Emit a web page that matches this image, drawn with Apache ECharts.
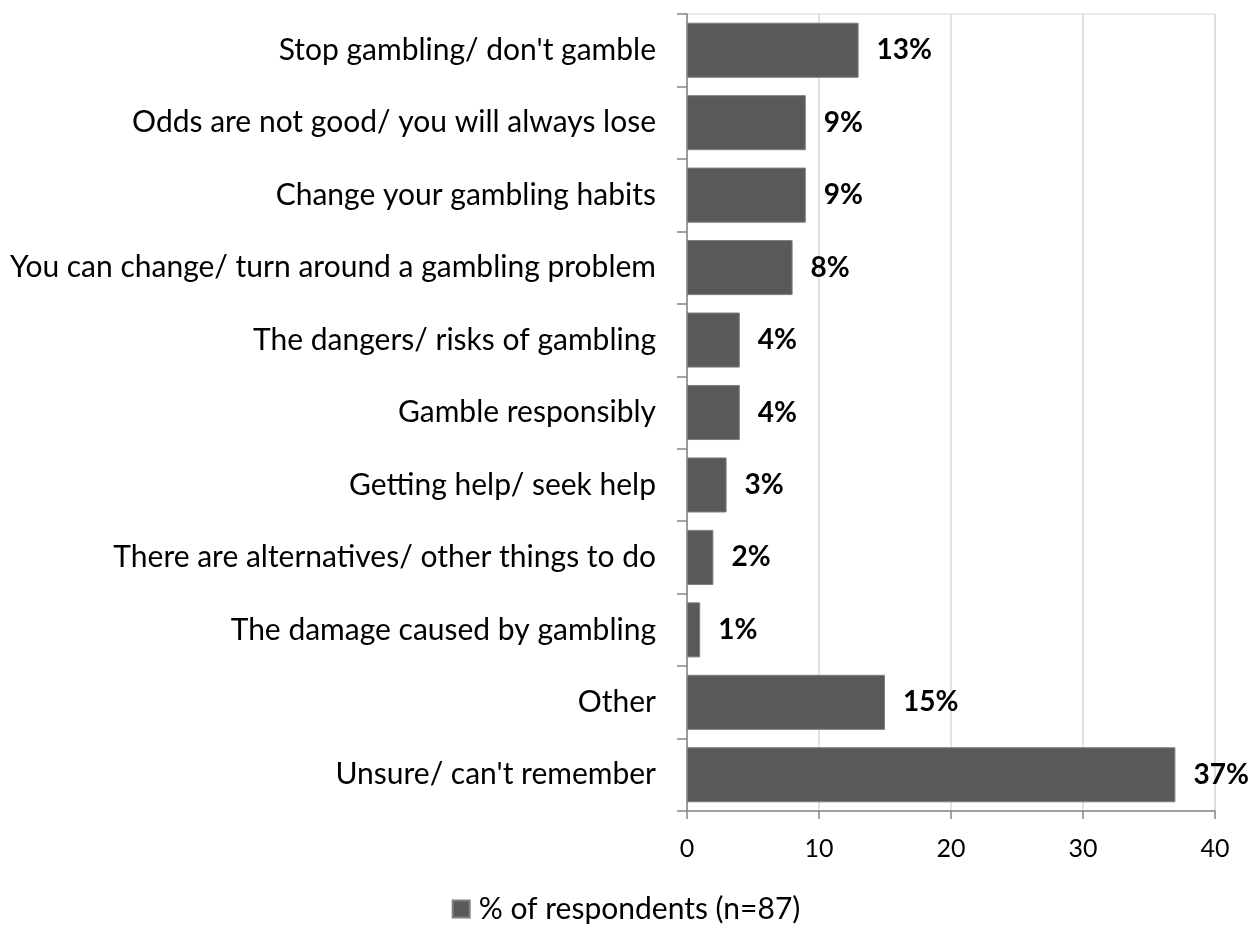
<!DOCTYPE html>
<html>
<head>
<meta charset="utf-8">
<script src="https://cdn.jsdelivr.net/npm/echarts@6/dist/echarts.min.js"></script>
<style>
  html, body { margin: 0; padding: 0; background: #fff; }
  #chart { width: 1252px; height: 925px; }
</style>
</head>
<body>
<div id="chart"></div>
<script>
// Message recalled from gambling ads, % of respondents
const categories = [
  "Stop gambling/ don't gamble",
  "Odds are not good/ you will always lose",
  "Change your gambling habits",
  "You can change/ turn around a gambling problem",
  "The dangers/ risks of gambling",
  "Gamble responsibly",
  "Getting help/ seek help",
  "There are alternatives/ other things to do",
  "The damage caused by gambling",
  "Other",
  "Unsure/ can't remember"
];
const values = [13, 9, 9, 8, 4, 4, 3, 2, 1, 15, 37];
const seriesName = "% of respondents (n=87)";
const xTicks = { min: 0, max: 40, interval: 10 };

const FONT = "Lato, 'Open Sans', sans-serif";
const chart = echarts.init(document.getElementById('chart'));
chart.setOption({
  animation: false,
  textStyle: { fontFamily: FONT },
  grid: {
    left: 687, right: 37, top: 14, bottom: 114,
    show: true, borderColor: '#d9d9d9', borderWidth: 1
  },
  legend: {
    top: 894, left: 'center', padding: 0,
    icon: 'rect', itemWidth: 17, itemHeight: 17, itemGap: 10,
    textStyle: { fontSize: 30, color: '#000', fontFamily: FONT, padding: [0, 0, 0, 4] },
    data: [seriesName]
  },
  xAxis: {
    type: 'value',
    min: xTicks.min, max: xTicks.max, interval: xTicks.interval,
    axisLine: { show: true, lineStyle: { color: '#868686', width: 1.5 } },
    axisTick: { show: true, length: 8, lineStyle: { color: '#868686', width: 1.5 } },
    splitLine: { show: true, lineStyle: { color: '#d9d9d9', width: 1.5 } },
    axisLabel: { fontSize: 25, color: '#000', margin: 25, fontFamily: FONT }
  },
  yAxis: {
    type: 'category',
    inverse: true,
    data: categories,
    axisLine: { show: true, lineStyle: { color: '#868686', width: 1.5 } },
    axisTick: { show: true, length: 10, lineStyle: { color: '#868686', width: 1.5 } },
    axisLabel: { fontSize: 30, color: '#000', margin: 31, fontFamily: FONT }
  },
  series: [{
    name: seriesName,
    type: 'bar',
    data: values,
    barCategoryGap: '24%',
    itemStyle: { color: '#595959', borderColor: '#7f7f7f', borderWidth: 1 },
    label: {
      show: true, position: 'right', distance: 18,
      formatter: p => p.value + '%',
      fontSize: 28, fontWeight: 'bold', color: '#000', fontFamily: FONT
    }
  }]
});
</script>
</body>
</html>
